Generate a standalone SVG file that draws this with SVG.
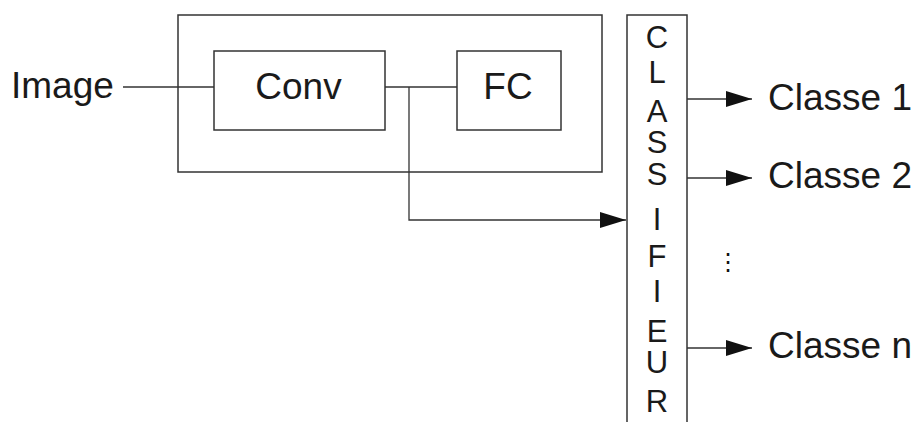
<svg xmlns="http://www.w3.org/2000/svg" width="919" height="422" viewBox="0 0 919 422">
<style>
.box{fill:#fff;stroke:#333;stroke-width:1.5}
.ln{fill:none;stroke:#333;stroke-width:1.3}
.t{font-family:"Liberation Sans",Arial,sans-serif;font-size:37px;fill:#1a1a1a}
.c{text-anchor:middle}
.v{font-family:"Liberation Sans",Arial,sans-serif;font-size:31px;fill:#1a1a1a;text-anchor:middle}
</style>
<defs>
<marker id="ah" markerUnits="userSpaceOnUse" markerWidth="26" markerHeight="16" refX="26" refY="8" orient="auto">
<path d="M0,0 L26,8 L0,16 Z" fill="#111"/>
</marker>
</defs>
<g id="container"><rect class="box" x="178" y="15" width="424" height="157"/></g>
<g id="conv"><rect class="box" x="214" y="51" width="171" height="79"/><text class="t c" x="298.5" y="99">Conv</text></g>
<g id="fc"><rect class="box" x="457" y="51" width="104" height="79"/><text class="t c" x="508" y="99">FC</text></g>
<g id="classifier"><rect class="box" x="627" y="15" width="60" height="420"/>
<text class="v" x="657" y="48">C</text>
<text class="v" x="657" y="83">L</text>
<text class="v" x="657" y="122">A</text>
<text class="v" x="657" y="153">S</text>
<text class="v" x="657" y="185">S</text>
<text class="v" x="657" y="230">I</text>
<text class="v" x="657" y="267">F</text>
<text class="v" x="657" y="302">I</text>
<text class="v" x="657" y="342">E</text>
<text class="v" x="657" y="373">U</text>
<text class="v" x="657" y="412">R</text>
</g>
<g id="image"><text class="t" x="11" y="98">Image</text></g>
<g id="classe1"><text class="t" x="768" y="110">Classe 1</text></g>
<g id="classe2"><text class="t" x="768" y="188">Classe 2</text></g>
<g id="dots"><text x="728" y="270" style="font-family:'DejaVu Sans',sans-serif;font-size:24px;fill:#111;text-anchor:middle">⋮</text></g>
<g id="classen"><text class="t" x="768" y="358">Classe n</text></g>
<g id="connectors">
<path class="ln" d="M123,87 H214"/>
<path class="ln" d="M385,87 H457"/>
<path class="ln" d="M409,87 V220 H626" marker-end="url(#ah)"/>
<path class="ln" d="M687,99 H752" marker-end="url(#ah)"/>
<path class="ln" d="M687,178 H752" marker-end="url(#ah)"/>
<path class="ln" d="M687,348 H752" marker-end="url(#ah)"/>
</g>
</svg>
